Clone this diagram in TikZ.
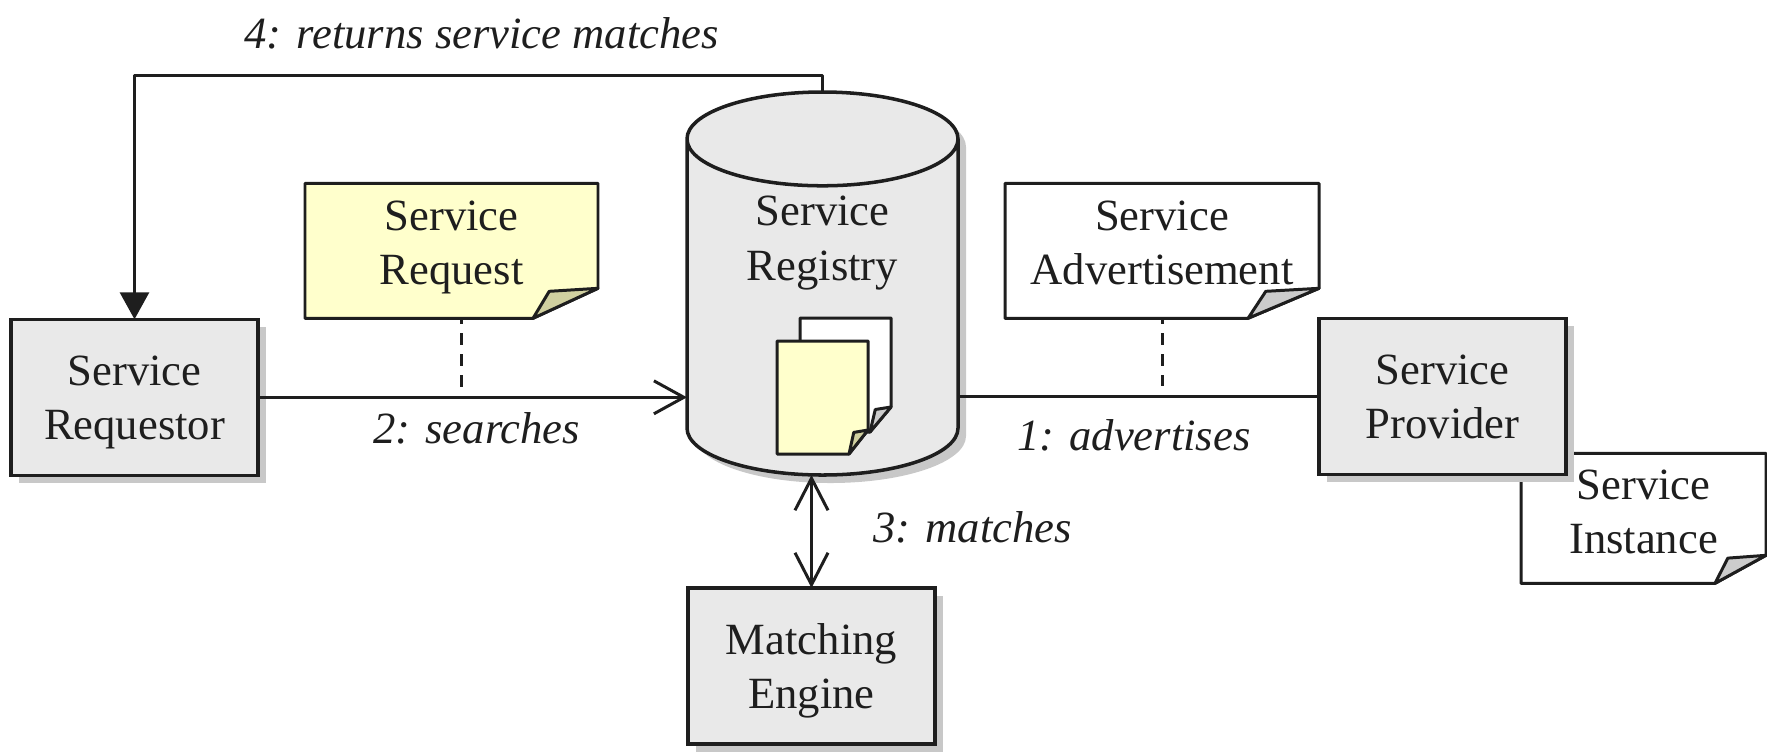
\documentclass[tikz,border=0pt]{standalone}
\usepackage{fontspec}
\setmainfont{Liberation Serif}
\usetikzlibrary{positioning}
\usetikzlibrary{calc}
\usetikzlibrary{arrows.meta}
\usetikzlibrary{shapes.geometric}
\usetikzlibrary{shadows}
\definecolor{boxgray}{RGB}{233,233,233}
\definecolor{shadowgray}{RGB}{200,200,200}
\definecolor{paper}{RGB}{255,255,204}
\definecolor{flap}{RGB}{208,208,160}
\definecolor{flapgray}{RGB}{204,204,204}
\definecolor{ink}{RGB}{30,30,30}
\tikzset{
  every node/.style={font=\fontsize{12.7}{15.4}\selectfont, text=ink, outer sep=0pt},
  conn/.style={draw=ink, line width=0.85pt, line join=round},
  open/.style={conn, -{Straight Barb[length=0.3cm,width=0.33cm]}},
  twoway/.style={conn, {Straight Barb[length=0.32cm,width=0.33cm]}-{Straight Barb[length=0.32cm,width=0.33cm]}},
  solid tip/.style={conn, -{Triangle[length=0.27cm,width=0.29cm]}},
  tie/.style={conn, dash pattern=on 0.12cm off 0.09cm, dash phase=0.06cm},
  msg/.style={font=\fontsize{12.7}{15}\selectfont\itshape, inner sep=0pt},
  unit/.style={draw=ink, line width=1pt, fill=boxgray, align=center, minimum width=2.47cm, minimum height=1.56cm, inner sep=0pt, text depth=0pt,
    copy shadow={shadow xshift=0.08cm, shadow yshift=-0.08cm, fill=shadowgray, draw=none}},
  sheet/.style={inner sep=0pt},
  sheet text/.style={align=center, inner sep=0pt, text depth=0pt},
}
% outline of a dog-eared sheet around a node
\newcommand{\sheetoutline}[5]{
  \draw[conn, fill=#2] (#1.north west) -- (#1.north east) -- ($(#1.south east)+(0,#5)$) -- ($(#1.south east)+(-#4,0)$) -- (#1.south west) -- cycle;
  \draw[conn, fill=#3] ($(#1.south east)+(-#4,0)$) -- ($(#1.south east)+(-0.75*#4,0.9*#5)$) -- ($(#1.south east)+(0,#5)$) -- cycle;
}
\begin{document}
\begin{tikzpicture}
    \useasboundingbox (0,0) rectangle (17.67,7.52);
    % nodes %
    \node[cylinder, shape border rotate=90, aspect=0.62, draw=ink, line width=1pt, fill=boxgray, minimum width=2.71cm, minimum height=3.83cm, anchor=north, align=center, inner sep=0pt,
      copy shadow={shadow xshift=0.08cm, shadow yshift=-0.08cm, fill=shadowgray, draw=none}] (reg) at (8.225,6.6) {Service\\Registry\\[0.85cm]\mbox{}};
    \node[unit, below left=0.115 and 4.29 of reg.west] (req) {Service\\Requestor};
    \node[unit, below=1.13 of reg, xshift=-0.11cm] (engine) {Matching\\Engine};
    % sheets %
    \node[sheet, minimum width=2.93cm, minimum height=1.35cm, above right=0.01 and 0.47 of req.north east] (request) {};
    \sheetoutline{request}{paper}{flap}{0.65}{0.3}
    \node[sheet text, yshift=0.08cm] (requesttxt) at (request) {Service\\Request};
    \node[sheet, minimum width=0.91cm, minimum height=1.13cm, above=0.21 of reg.south] (docfront) {};
    \node[sheet, minimum width=0.91cm, minimum height=1.14cm] (docback) at ($(docfront)+(0.23,0.225)$) {};
    \sheetoutline{docback}{white}{flapgray}{0.21}{0.25}
    \sheetoutline{docfront}{paper}{flap}{0.19}{0.24}
    \node[sheet, minimum width=2.45cm, minimum height=1.3cm, below right=1.455 and 5.63 of reg.east] (inst) {};
    \sheetoutline{inst}{white}{flapgray}{0.51}{0.28}
    \node[sheet text, yshift=0.07cm] (insttxt) at (inst) {Service\\Instance};
    \node[unit, anchor=south east] (prov) at ($(inst.north west)+(0.45,-0.21)$) {Service\\Provider};
    \node[sheet, minimum width=3.14cm, minimum height=1.35cm, above left=0 and 0 of prov.north west] (advert) {};
    \sheetoutline{advert}{white}{flapgray}{0.71}{0.3}
    \node[sheet text, yshift=0.08cm] (adverttxt) at (advert) {Service\\Advertisement};
    % edges %
    \coordinate (corner) at ($(req.north)+(0,2.44)$);
    \draw[solid tip] (reg.north) |- (corner) -- (req.north) node[pos=0,msg,above right=0.26 and 1.1] (retlbl) {4: returns service matches};
    \draw[open] (req.east) -- (req.east -| reg.west) node[pos=0.51,msg,below=0.15] (searchlbl) {2: searches};
    \draw[conn] (reg.east |- prov.west) -- (prov.west) node[pos=0.487,msg,below=0.23] (advlbl) {1: advertises};
    \draw[twoway] (engine.north |- reg.south) -- (engine.north) node[midway,msg,right=0.62,yshift=0.045cm] (matchlbl) {3: matches};
    \coordinate (reqtie) at ($(req.east)!0.475!(req.east -| reg.west)$);
    \draw[tie] (request.south -| reqtie) -- ($(reqtie)+(0,0.1)$);
    \coordinate (advtie) at (advert.south |- prov.west);
    \draw[tie] (advert.south) -- ($(advtie)+(0,0.1)$);
\end{tikzpicture}
\end{document}
